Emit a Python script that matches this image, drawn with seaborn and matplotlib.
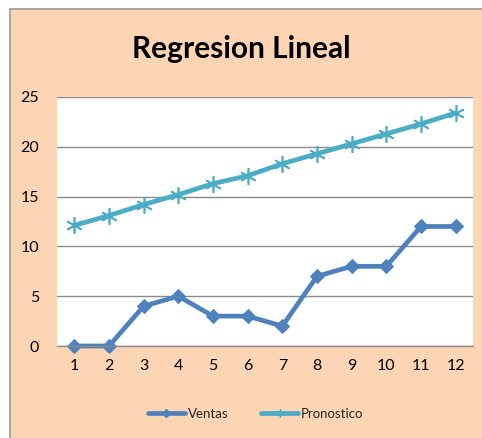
import pandas as pd
import numpy as np
import matplotlib.pyplot as plt
import seaborn as sns
from matplotlib.patches import Rectangle

# data
periodos = list(range(1, 13))
ventas = [0, 0, 4, 5, 3, 3, 2, 7, 8, 8, 12, 12]
pronostico = [12.1, 13.1, 14.2, 15.2, 16.3, 17.1, 18.3, 19.3, 20.3, 21.3, 22.3, 23.4]
yticks = [0, 5, 10, 15, 20, 25]

sns.set_style("white")
plt.rcParams['font.family'] = ['Lato', 'DejaVu Sans']

bg = "#FCD5B5"
c_ventas = "#4F81BD"
c_pron = "#4BACC6"

fig = plt.figure(figsize=(4.82, 4.38), dpi=100)
fig.patch.set_facecolor("white")
# orange chart area with grey border
fig.patches.append(Rectangle((10 / 482, -0.01), 1.0, 1 - 9 / 438 + 0.01, transform=fig.transFigure,
                             facecolor=bg, edgecolor="#9a9a9a", linewidth=1.2, zorder=0))

ax = fig.add_axes([57 / 482, 1 - 346 / 438, 416 / 482, 249 / 438])
ax.set_zorder(2)
ax.set_facecolor("white")

sns.lineplot(x=periodos, y=ventas, color=c_ventas, marker="D", linewidth=3.4,
             markersize=7.5, markeredgecolor=c_ventas, ax=ax, label="Ventas", clip_on=False)
sns.lineplot(x=periodos, y=pronostico, color=c_pron, marker=(6, 2, 0), linewidth=3.4,
             markersize=12, markeredgewidth=1.2, markeredgecolor=c_pron, ax=ax, label="Pronostico",
             clip_on=False)
ax.get_legend().remove()

ax.set_xlim(0.5, 12.5)
ax.set_ylim(0, 25)
ax.set_xticks(periodos)
ax.set_yticks(yticks)
ax.yaxis.grid(True, color="#8c8c8c", linewidth=1.0)
ax.set_axisbelow(True)
for s in ["left", "right", "top"]:
    ax.spines[s].set_visible(False)
ax.spines["bottom"].set_color("#8c8c8c")
ax.spines["bottom"].set_linewidth(1.0)
ax.tick_params(axis="both", length=0, labelsize=11.5, colors="black")
ax.tick_params(axis="y", pad=13)
ax.tick_params(axis="x", pad=9)

fig.text(0.5, 1 - 49 / 438, "Regresion Lineal", ha="center", va="center",
         fontsize=21.5, fontweight="bold", color="black", zorder=3)

handles = [plt.Line2D([], [], color=c_ventas, lw=3.4, marker="D", markersize=4),
           plt.Line2D([], [], color=c_pron, lw=3.4, marker=(6, 2, 0), markersize=6,
                      markeredgecolor=c_pron)]
leg = fig.legend(handles, ["Ventas", "Pronostico"], loc="center", bbox_to_anchor=(0.53, 1 - 414 / 438),
                 ncol=2, frameon=False, fontsize=9.5, handlelength=2.8, columnspacing=2.5,
                 handletextpad=0.2)
leg.set_zorder(3)

fig.savefig("out.png", dpi=100, facecolor=fig.get_facecolor())
